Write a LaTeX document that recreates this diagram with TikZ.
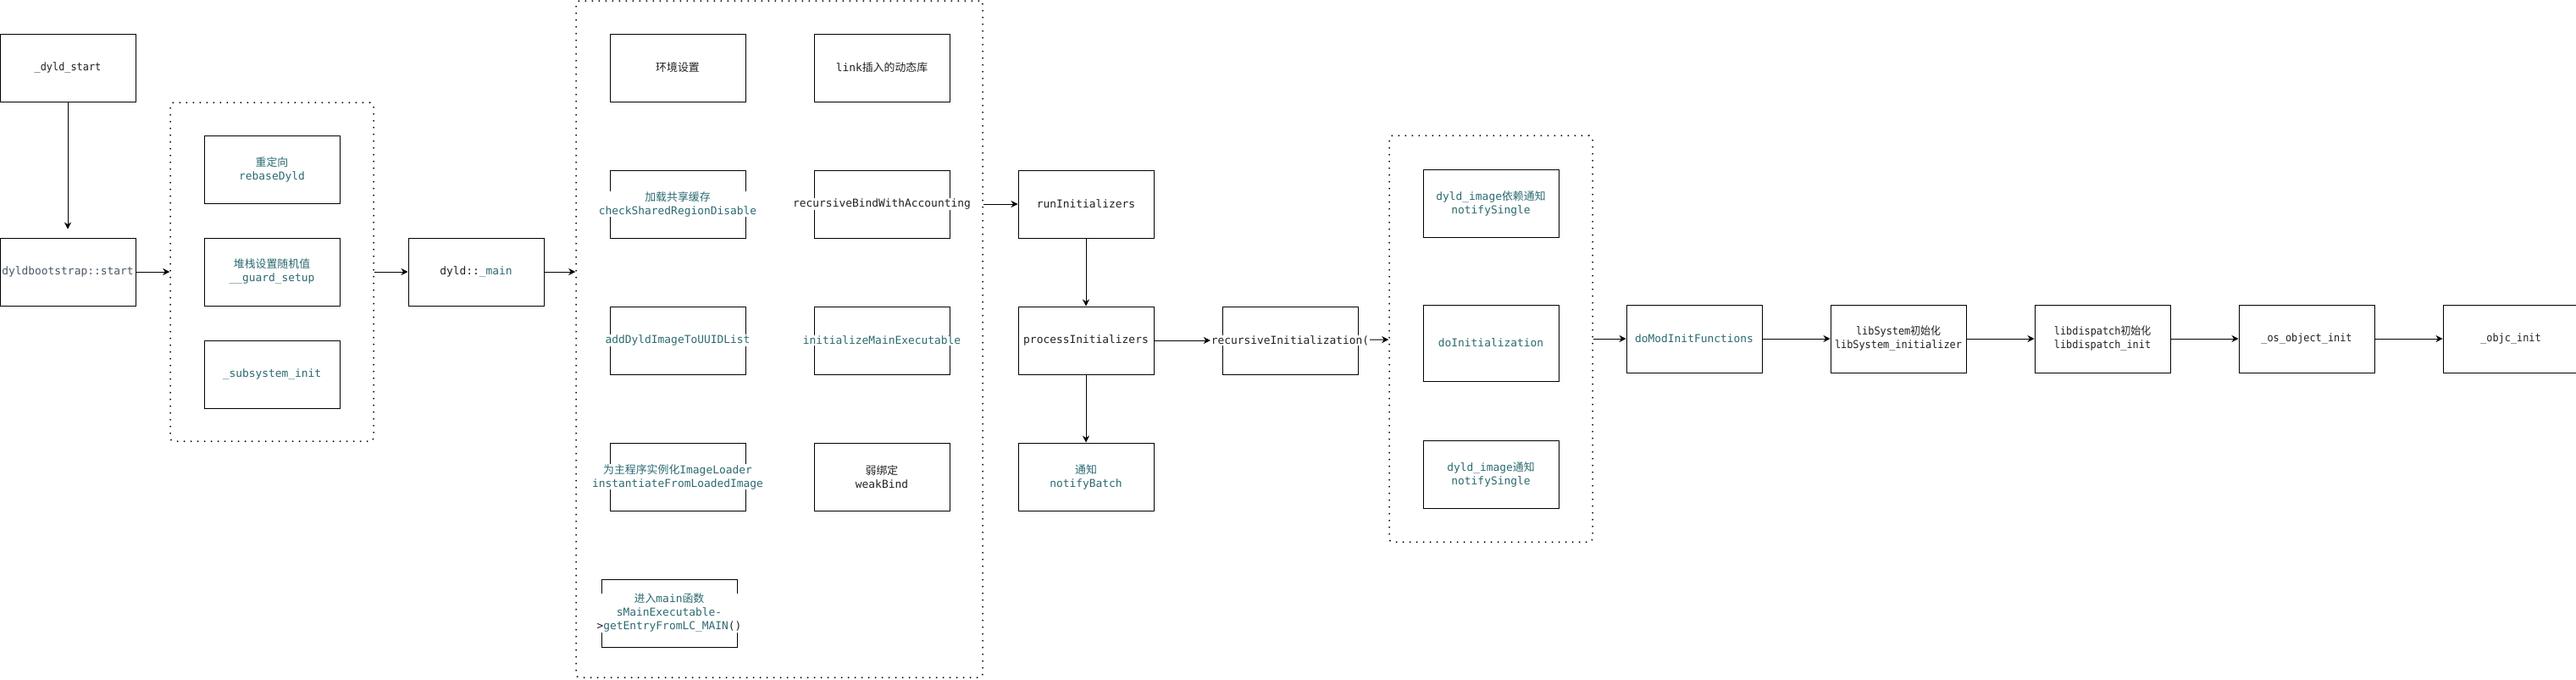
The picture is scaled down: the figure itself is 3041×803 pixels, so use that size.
\documentclass[tikz,border=0pt]{standalone}
\usepackage{fontspec}
\setmonofont{DejaVu Sans Mono}
\newfontfamily\zhfont{Noto Sans CJK SC}
\newfontfamily\narrowtt{DejaVu Sans Mono}[FakeStretch=0.92]
\newfontfamily\narrowzh{Noto Sans CJK SC}[FakeStretch=0.92]
\newcommand{\zh}[1]{{\zhfont #1}}
\newcommand{\zhn}[1]{{\narrowzh #1}}
\usetikzlibrary{arrows.meta,positioning}
\definecolor{codeteal}{HTML}{2B6A71}
\definecolor{codeink}{HTML}{222222}
\definecolor{codeslate}{HTML}{4A5866}

\begin{document}
\begin{tikzpicture}[
    x=1pt, y=-1pt, line width=1pt,
    >={Stealth[length=8pt,width=8pt,inset=2.5pt]},
    box/.style={draw, minimum width=160pt, minimum height=80pt, inner sep=0pt},
    group/.style={draw, line width=1.5pt, dash pattern=on 1.5pt off 6.5pt, rounded corners=4pt, inner sep=0pt},
    txt/.style={fill=white, inner sep=0.5pt, align=center, text=codeink, font=\ttfamily\fontsize{12.9}{16}\selectfont},
    code/.style={txt, text=codeteal},
    narrow/.style={txt, font=\narrowtt\fontsize{12.9}{16}\selectfont}
  ]
  \useasboundingbox (0,0) rectangle (3041,803);

  % start + dyldbootstrap
  \node[box] (dyldstart) at (80,80) {};
  \node[box, below=160pt of dyldstart] (bootstrap) {};
  \node[box, right=80pt of bootstrap] (guard) {};
  \node[box, above=40pt of guard] (rebase) {};
  \node[box, below=40pt of guard] (subsys) {};
  \node[group, minimum width=240pt, minimum height=400pt] (grpA) at (guard) {};
  \node[box, right=80pt of guard] (dyldmain) {};

  % dyld::_main
  \node[group, minimum width=480pt, minimum height=799pt] (grpB) at (920,400.5) {};
  \node[box] (envset) at (800,80) {};
  \node[box, right=80pt of envset] (linkins) {};
  \node[box, below=80pt of envset] (sharedcache) {};
  \node[box, below=80pt of linkins] (recbind) {};
  \node[box, below=80pt of sharedcache] (adduuid) {};
  \node[box, below=80pt of recbind] (initmain) {};
  \node[box, below=80pt of adduuid] (instimg) {};
  \node[box, below=80pt of initmain] (weakbind) {};
  \node[box, below=80pt of instimg, xshift=-10pt] (entrymain) {};

  % initializers
  \node[box, right=80pt of recbind] (runinit) {};
  \node[box, below=80pt of runinit] (procinit) {};
  \node[box, below=80pt of procinit] (notifybatch) {};
  \node[box, right=80pt of procinit] (recinit) {};
  \node[group, minimum width=240pt, minimum height=480pt] (grpC) at (1760,400) {};
  \node[box] (notifydep) at (1760,240) {};
  \node[box, minimum height=90pt] (doinit) at (1760,405) {};
  \node[box] (notifyimg) at (1760,560) {};
  \node[box] (modinit) at (2000,400) {};
  \node[box, right=80pt of modinit] (libsys) {};
  \node[box, right=80pt of libsys] (libdisp) {};
  \node[box, right=80pt of libdisp] (osobj) {};
  \node[box, right=80pt of osobj] (objcinit) {};

  \draw[->, shorten >=10pt] (dyldstart) -- (bootstrap);
  \draw[->] (bootstrap) -- (grpA);
  \draw[->] (grpA) -- (dyldmain);
  \draw[->] (dyldmain) -- (dyldmain -| grpB.west);
  \draw[->] (runinit -| grpB.east) -- (runinit);
  \draw[->] (runinit) -- (procinit);
  \draw[->] (procinit) -- (notifybatch);
  \draw[->] (recinit) -- (grpC);
  \draw[->] (grpC) -- (modinit);
  \draw[->] (modinit) -- (libsys);
  \draw[->] (libsys) -- (libdisp);
  \draw[->] (libdisp) -- (osobj);
  \draw[->] (osobj) -- (objcinit);

  \node[narrow] (dyldstart-t) at (dyldstart) {\_dyld\_start};
  \node[txt, text=codeslate] (bootstrap-t) at (bootstrap) {dyldbootstrap::start};
  \node[code] (rebase-t) at (rebase) {\zh{重定向}\\rebaseDyld};
  \node[code] (guard-t) at (guard) {\zh{堆栈设置随机值}\\\_\_guard\_setup};
  \node[code] (subsys-t) at (subsys) {\_subsystem\_init};
  \node[txt] (dyldmain-t) at (dyldmain) {dyld::\textcolor{codeteal}{\_main}};
  \node[txt] (envset-t) at (envset) {\zh{环境设置}};
  \node[txt] (linkins-t) at (linkins) {link\zh{插入的动态库}};
  \node[code] (sharedcache-t) at (sharedcache) {\zh{加载共享缓存}\\checkSharedRegionDisable};
  \node[txt] (recbind-t) at (recbind) {recursiveBindWithAccounting};
  \node[code] (adduuid-t) at (adduuid) {addDyldImageToUUIDList};
  \node[code] (initmain-t) at (initmain) {initializeMainExecutable};
  \node[code] (instimg-t) at (instimg) {\zh{为主程序实例化}ImageLoader\\instantiateFromLoadedImage};
  \node[txt] (weakbind-t) at (weakbind) {\zh{弱绑定}\\weakBind};
  \node[code] (entrymain-t) at (entrymain) {\zh{进入}main\zh{函数}\\sMainExecutable-\\\textcolor{codeink}{>}getEntryFromLC\_MAIN\textcolor{codeink}{()}};
  \node[txt] (runinit-t) at (runinit) {runInitializers};
  \node[txt] (procinit-t) at (procinit) {processInitializers};
  \node[code] (notifybatch-t) at (notifybatch) {\zh{通知}\\notifyBatch};
  \node[txt] (recinit-t) at (recinit) {recursiveInitialization(};
  \node[code] (notifydep-t) at (notifydep) {dyld\_image\zh{依赖通知}\\notifySingle};
  \node[code] (doinit-t) at (doinit) {doInitialization};
  \node[code] (notifyimg-t) at (notifyimg) {dyld\_image\zh{通知}\\notifySingle};
  \node[code] (modinit-t) at (modinit) {doModInitFunctions};
  \node[narrow] (libsys-t) at (libsys) {libSystem\zhn{初始化}\\libSystem\_initializer};
  \node[narrow] (libdisp-t) at (libdisp) {libdispatch\zhn{初始化}\\libdispatch\_init};
  \node[narrow] (osobj-t) at (osobj) {\_os\_object\_init};
  \node[narrow] (objcinit-t) at (objcinit) {\_objc\_init};

  \draw[->] (procinit) -- (recinit-t);
\end{tikzpicture}
\end{document}
